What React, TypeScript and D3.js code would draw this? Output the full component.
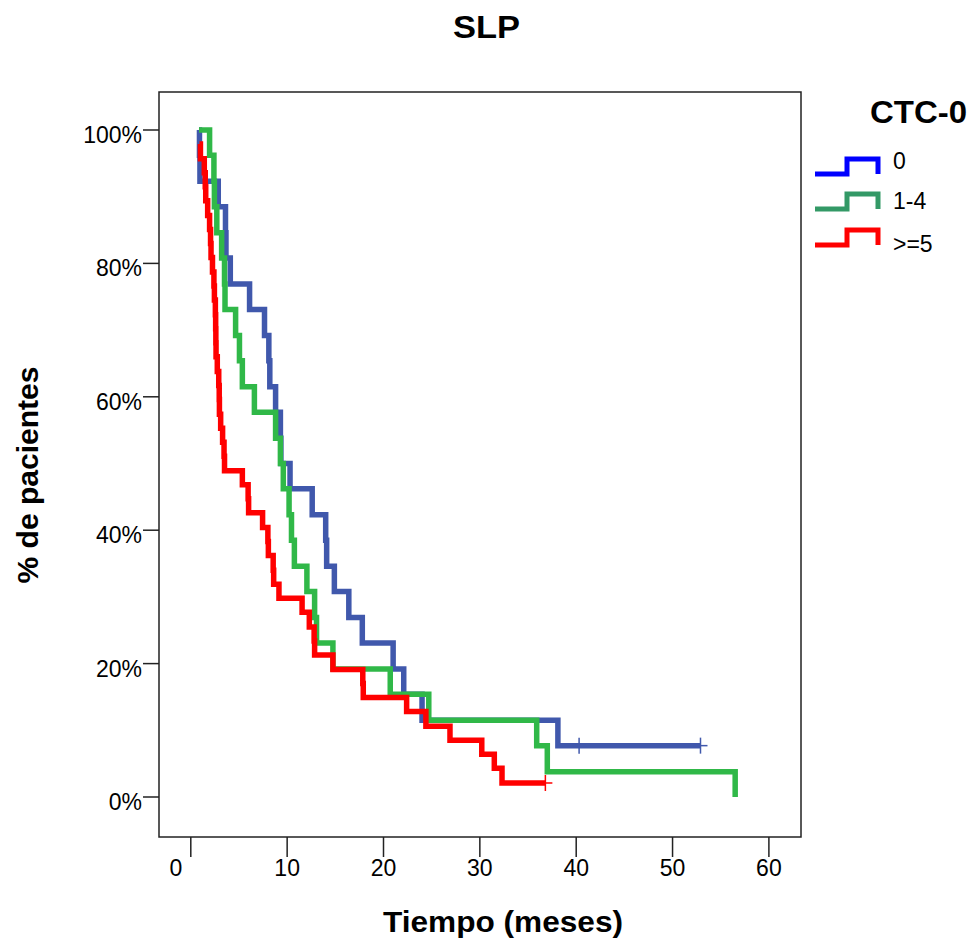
import React from 'react';
import * as d3 from 'd3';

// ---------- data ----------
const chartTitle = 'SLP';
const legendTitle = 'CTC-0';
const groupNames = ['0', '1-4', '>=5'];
const xTickValues = [0, 10, 20, 30, 40, 50, 60];
const yTickValues = [0, 20, 40, 60, 80, 100];
const xAxisTitle = 'Tiempo (meses)';
const yAxisTitle = '% de pacientes';

// group "0"
const months0 = [0.85, 0.9, 0.95, 2.85, 3.6, 3.65, 4.1, 6.1, 7.65, 8.1, 8.2, 8.8, 9.3, 9.35, 10.3, 12.6, 14.0, 14.1, 14.9, 16.4, 17.8, 21.0, 22.1, 24.0, 38.1, 52.9];
const surv0 = [100, 96.2, 92.3, 88.5, 84.6, 80.8, 76.9, 73.1, 69.2, 65.4, 61.5, 57.7, 53.8, 50.0, 46.2, 42.3, 38.5, 34.6, 30.8, 26.9, 23.1, 19.2, 15.4, 11.5, 7.7, 7.7];
const censored0 = [40.3, 52.9];

// group "1-4"
const months1 = [0.85, 1.95, 2.4, 2.45, 2.7, 3.2, 3.5, 3.55, 4.65, 5.05, 5.35, 6.6, 8.8, 9.3, 9.6, 10.2, 10.45, 10.75, 12.05, 12.85, 13.05, 14.75, 20.7, 24.7, 35.9, 37.0, 56.5];
const surv1 = [100, 96.2, 92.3, 88.5, 84.6, 80.8, 76.9, 73.1, 69.2, 65.4, 61.5, 57.7, 53.8, 50.0, 46.2, 42.3, 38.5, 34.6, 30.8, 26.9, 23.1, 19.2, 15.4, 11.5, 7.7, 3.8, 0];
const censored1: number[] = [];

// group ">=5"
const months2 = [0.9, 1.0, 1.4, 1.5, 1.55, 1.75, 1.95, 2.05, 2.1, 2.25, 2.4, 2.45, 2.55, 2.58, 2.6, 2.62, 2.75, 2.9, 2.95, 2.97, 3.1, 3.3, 3.45, 3.5,
  5.35, 5.95, 6.0, 7.45, 8.0, 8.05, 8.55, 8.6, 9.15, 11.55, 12.3, 12.8, 12.85, 14.75, 17.85, 17.9, 22.4, 24.4, 26.9, 30.2, 31.5, 32.3, 36.8];
const surv2 = [97.9, 95.7, 93.6, 91.5, 89.4, 87.2, 85.1, 83.0, 80.9, 78.7, 76.6, 74.5, 72.3, 70.2, 68.1, 66.0, 63.8, 61.7, 59.6, 57.4, 55.3, 53.2, 51.1, 48.9,
  46.8, 44.7, 42.6, 40.4, 38.3, 36.2, 34.0, 31.9, 29.8, 27.7, 25.5, 23.4, 21.3, 19.1, 17.0, 14.9, 12.8, 10.6, 8.5, 6.4, 4.3, 2.1, 2.1];
const censored2 = [36.8];

const lineColors = ['#4058ac', '#30b848', '#ff0000'];
const legendColors = ['#0000ff', '#339966', '#ff0000'];

const FONT = "'Liberation Sans', Arial, Helvetica, sans-serif";

export default function App() {
  const W = 973, H = 944;
  const frame = { left: 159, top: 92, right: 801, bottom: 837 };
  const x = d3.scaleLinear().domain([0, 60]).range([190.8, 768.9]);
  const y = d3.scaleLinear().domain([0, 100]).range([797, 130]);

  const series = [
    { months: months0, surv: surv0, cens: censored0 },
    { months: months1, surv: surv1, cens: censored1 },
    { months: months2, surv: surv2, cens: censored2 },
  ];

  const line = d3.line<[number, number]>()
    .x(d => x(d[0]))
    .y(d => y(d[1]))
    .curve(d3.curveStepAfter);

  const survAt = (months: number[], surv: number[], t: number) => {
    let s = surv[0];
    for (let i = 0; i < months.length; i++) if (months[i] <= t) s = surv[i];
    return s;
  };

  const legendLow = [174, 209, 245];
  const legendLabelY = [169, 209, 252];

  return (
    <svg width={W} height={H} style={{ position: 'absolute', left: 0, top: 0, display: 'block', background: '#fff' }}
      fontFamily={FONT}>
      <rect x={0} y={0} width={W} height={H} fill="#fff" />
      <text x={486.5} y={38} textAnchor="middle" fontSize={31} fontWeight="bold" textLength={67} lengthAdjust="spacingAndGlyphs">{chartTitle}</text>

      {/* frame */}
      <rect x={frame.left} y={frame.top} width={frame.right - frame.left} height={frame.bottom - frame.top}
        fill="none" stroke="#222" strokeWidth={1.5} />

      {/* y axis */}
      {yTickValues.map(v => (
        <g key={'y' + v}>
          <line x1={143} x2={frame.left} y1={y(v)} y2={y(v)} stroke="#222" strokeWidth={1.5} />
          <text x={142} y={y(v) + 13} textAnchor="end" fontSize={23}>{v + '%'}</text>
        </g>
      ))}
      {/* x axis */}
      {xTickValues.map((v, i) => (
        <g key={'x' + v}>
          <line x1={x(v)} x2={x(v)} y1={frame.bottom} y2={857} stroke="#222" strokeWidth={1.5} />
          <text x={x(v) - (i === 0 ? 15 : 0)} y={876} textAnchor="middle" fontSize={23}>{String(v)}</text>
        </g>
      ))}

      <text x={503} y={932} textAnchor="middle" fontSize={29} fontWeight="bold" textLength={240} lengthAdjust="spacingAndGlyphs">{xAxisTitle}</text>
      <text transform={`translate(38,475) rotate(-90)`} textAnchor="middle" fontSize={29} fontWeight="bold" textLength={217} lengthAdjust="spacingAndGlyphs">{yAxisTitle}</text>

      {/* curves */}
      {series.map((s, i) => {
        const pts: [number, number][] = s.months.map((m, j) => [m, s.surv[j]]);
        return (
          <g key={'s' + i}>
            <path d={line(pts) || ''} fill="none" stroke={lineColors[i]} strokeWidth={5.5} strokeLinejoin="miter" strokeLinecap="butt" />
            {s.cens.map((c, k) => {
              const cx = x(c), cy = y(survAt(s.months, s.surv, c));
              return (
                <g key={'c' + k} stroke={lineColors[i]} strokeWidth={1.5}>
                  <line x1={cx} x2={cx} y1={cy - 8} y2={cy + 8} />
                  <line x1={cx - 7} x2={cx + 7} y1={cy} y2={cy} />
                </g>
              );
            })}
          </g>
        );
      })}

      {/* legend */}
      <text x={870} y={123} fontSize={31} fontWeight="bold" textLength={97} lengthAdjust="spacingAndGlyphs">{legendTitle}</text>
      {groupNames.map((g, i) => {
        const low = legendLow[i], high = low - 15;
        return (
          <g key={'l' + g}>
            <path d={`M815,${low}H847V${high}H878V${low}`} fill="none" stroke={legendColors[i]} strokeWidth={5} />
            <text x={893} y={legendLabelY[i]} fontSize={23}>{g}</text>
          </g>
        );
      })}
    </svg>
  );
}
